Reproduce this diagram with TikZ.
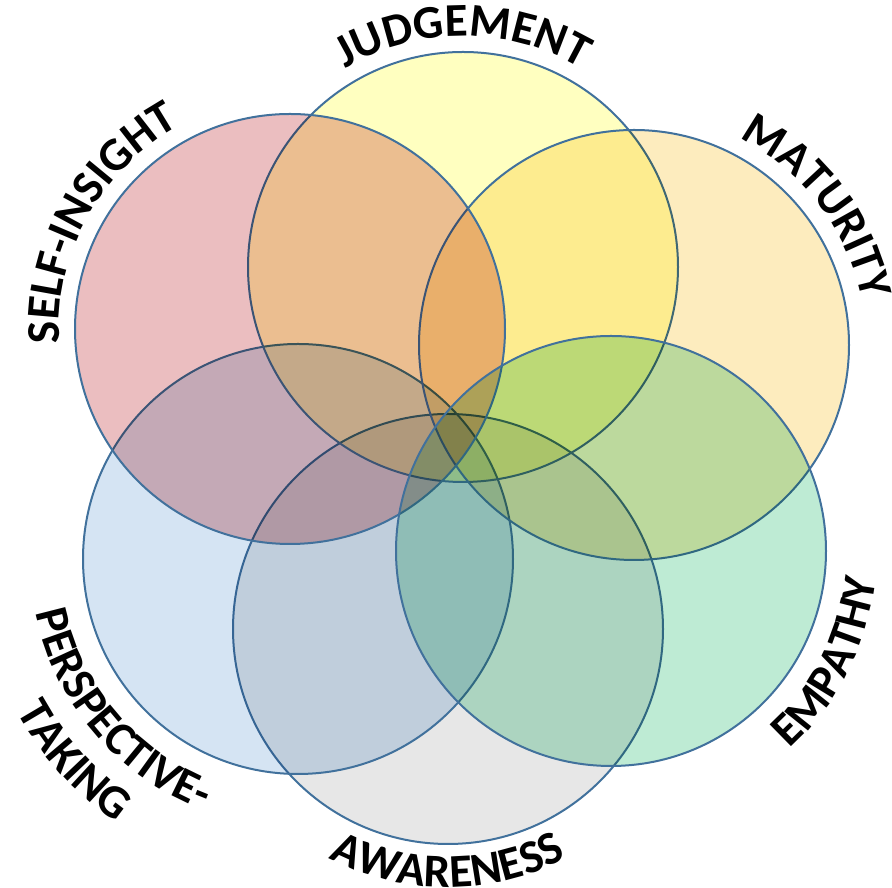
\documentclass[tikz,border=0pt]{standalone}
\usepackage{fontspec}
\setmainfont{Carlito}
\usetikzlibrary{decorations.text,calc}
\definecolor{ringblue}{RGB}{65,113,156}
\definecolor{cS}{RGB}{235,190,192}
\definecolor{cJ}{RGB}{255,255,192}
\definecolor{cM}{RGB}{253,236,190}
\definecolor{cE}{RGB}{190,235,212}
\definecolor{cA}{RGB}{231,231,231}
\definecolor{cP}{RGB}{213,228,243}
\newcommand\lblfont{\fontsize{47}{56}\selectfont\bfseries}
\begin{document}
\begin{tikzpicture}[x=1pt,y=1pt,
  ring/.style={draw=ringblue, line width=2pt},
  arclabel/.style={decorate, decoration={text along path, text align=center, text={|\lblfont|#1}}}]
\useasboundingbox (0,0) rectangle (892,888);
\fill[white] (0,0) rectangle (892,888);
\coordinate (S) at (290,559);
\coordinate (J) at (463,621);
\coordinate (M) at (634,543);
\coordinate (E) at (611,337);
\coordinate (A) at (448,259);
\coordinate (P) at (298,329);
\def\R{215}
% circles: fill in multiply mode, outline normal, in stacking order
\foreach \c/\col in {A/cA, P/cP, J/cJ, M/cM, S/cS, E/cE}{
  \begin{scope}[blend mode=multiply]
    \fill[\col] (\c) circle[radius=\R];
  \end{scope}
  \draw[ring] (\c) circle[radius=\R];
}
% labels along arcs
\path[arclabel=JUDGEMENT] ($(J)+(160:231)$) arc[start angle=160, end angle=20, radius=231];
\path[arclabel=SELF-INSIGHT] ($(S)+(221:231)$) arc[start angle=221, end angle=81, radius=231];
\path[arclabel=MATURITY] ($(M)+(107:232)$) arc[start angle=107, end angle=-33, radius=232];
\path[arclabel=EMPATHY] ($(E)+(-97:266)$) arc[start angle=-97, end angle=43, radius=266];
\path[arclabel=AWARENESS] ($(A)+(-160:258)$) arc[start angle=-160, end angle=-20, radius=258];
\path[arclabel=PERSPECTIVE-] ($(P)+(150:268)$) arc[start angle=150, end angle=291, radius=268];
\path[arclabel=TAKING] ($(P)+(170:320)$) arc[start angle=170, end angle=274, radius=320];
\end{tikzpicture}
\end{document}
